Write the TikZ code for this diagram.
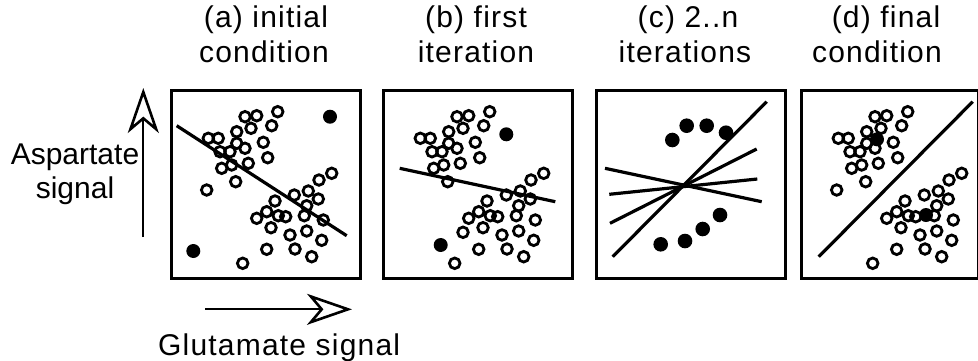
\documentclass[tikz,border=0pt]{standalone}
\usepackage{fontspec}
\setmainfont{Liberation Sans}
\newfontfamily\widefont[LetterSpace=4]{Liberation Sans}
\usetikzlibrary{arrows.meta}
\def\upperpts{38.3/49.3, 48.3/49.3, 50/62.7, 60/62.7, 66.7/42.7, 66.7/54.3, 75/27.7, 86.7/26.7, 81/39.3, 75/59.3, 78.3/74.3, 61.7/76, 51.7/79.3, 65.7/92.7, 93.3/53.3, 97.7/68.7, 101.7/36.7, 107.7/22.7}
\def\lowerpts{86.7/129.3, 96.7/122.7, 105/112, 108.3/126.7, 115.7/127.7, 101/138.7, 120/146, 96.7/160.3, 124.3/106, 138.3/102, 149/91, 161.7/84.3, 148.3/110, 136.7/116.7, 134.3/126.7, 153.3/131, 136.7/142, 151.7/151.3, 125/160, 141.7/167.7, 72.7/174.3}
\begin{document}
\begin{tikzpicture}[x=1pt,y=-1pt,
  panel/.style={draw,line width=3.2pt,minimum width=189pt,minimum height=188pt,inner sep=0pt,anchor=north west},
  odot/.style={draw,line width=2.8pt},
  sepline/.style={line width=3.2pt},
  lbl/.style={font=\fontsize{30}{34}\selectfont,inner sep=0pt,anchor=base},
  wlbl/.style={font=\fontsize{30}{34}\selectfont\widefont,inner sep=0pt,anchor=base},
  axis/.style={line width=2pt,-{Stealth[open,length=45pt,width=31pt,inset=13pt,line width=2.6pt]}}]
\useasboundingbox (0,0) rectangle (978,360);

% panels
\node[panel] (pa) at (170,89) {};
\node[panel] (pb) at (382,89) {};
\node[panel] (pc) at (595,89) {};
\node[panel,minimum width=177pt] (pd) at (800,89) {};

% titles
\node[wlbl] (ta1) at (266,27) {(a) initial};
\node[wlbl] (ta2) at (264,62) {condition};
\node[wlbl] (tb1) at (476,27) {(b) first};
\node[wlbl] (tb2) at (476,62) {iteration};
\node[wlbl] (tc1) at (688,27) {(c) 2..n};
\node[wlbl] (tc2) at (685,62) {iterations};
\node[wlbl] (td1) at (886,27) {(d) final};
\node[wlbl] (td2) at (877,62) {condition};

% axis labels
\node[lbl] (ya1) at (75,164) {Aspartate};
\node[lbl] (ya2) at (75,198) {signal};
\node[wlbl,anchor=base west] (xa) at (158,355) {Glutamate signal};

% axis arrows
\coordinate (ys) at (143.3,237);
\coordinate (ye) at (143.3,88);
\coordinate (xs) at (205,309.3);
\coordinate (xe) at (352,309.3);
\draw[axis] (ys) -- (ye);
\draw[axis] (xs) -- (xe);

% panel (a)
\begin{scope}[shift={(pa.north west)}]
  \foreach \x/\y in \upperpts {\draw[odot] (\x,\y) circle[radius=5.3pt];}
  \foreach \x/\y in \lowerpts {\draw[odot] (\x,\y) circle[radius=5.3pt];}
  \draw[odot] (36.7,101) circle[radius=5.3pt];
  \fill (160,27.7) circle[radius=7pt];
  \fill (23.3,162) circle[radius=7pt];
  \draw[sepline] (6.7,36.7) -- (176.7,146.7);
\end{scope}

% panel (b)
\begin{scope}[shift={(pb.north west)}]
  \foreach \x/\y in \upperpts {\draw[odot] (\x,\y) circle[radius=5.3pt];}
  \foreach \x/\y in \lowerpts {\draw[odot] (\x,\y) circle[radius=5.3pt];}
  \draw[odot] (81,143.3) circle[radius=5.3pt];
  \fill (124.3,45.3) circle[radius=7pt];
  \fill (58.7,156) circle[radius=7pt];
  \draw[sepline] (17.7,79.3) -- (173.3,112.7);
\end{scope}

% panel (c)
\begin{scope}[shift={(pc.north west)}]
  \foreach \x/\y in {77.3/51, 91.7/36.7, 111.7/36.7, 131/43.7, 125/126, 107.7/140, 90/152, 65.7/155.3}
    {\fill (\x,\y) circle[radius=7.3pt];}
  \draw[sepline] (17.7,167.7) -- (171.7,12.7);
  \draw[sepline] (15,134.3) -- (161.7,60);
  \draw[sepline] (14.3,105.3) -- (162.3,90);
  \draw[sepline] (10,79.3) -- (166.7,112.7);
\end{scope}

% panel (d)
\begin{scope}[shift={(pd.north west)}]
  \foreach \x/\y in \upperpts {\draw[odot] (\x,\y) circle[radius=5.3pt];}
  \foreach \x/\y in \lowerpts {\draw[odot] (\x,\y) circle[radius=5.3pt];}
  \draw[odot] (36.7,101) circle[radius=5.3pt];
  \fill (77,50.3) circle[radius=7pt];
  \fill (126,126) circle[radius=7pt];
  \draw[sepline] (18.7,167.7) -- (172.7,12.7);
\end{scope}
\end{tikzpicture}
\end{document}
